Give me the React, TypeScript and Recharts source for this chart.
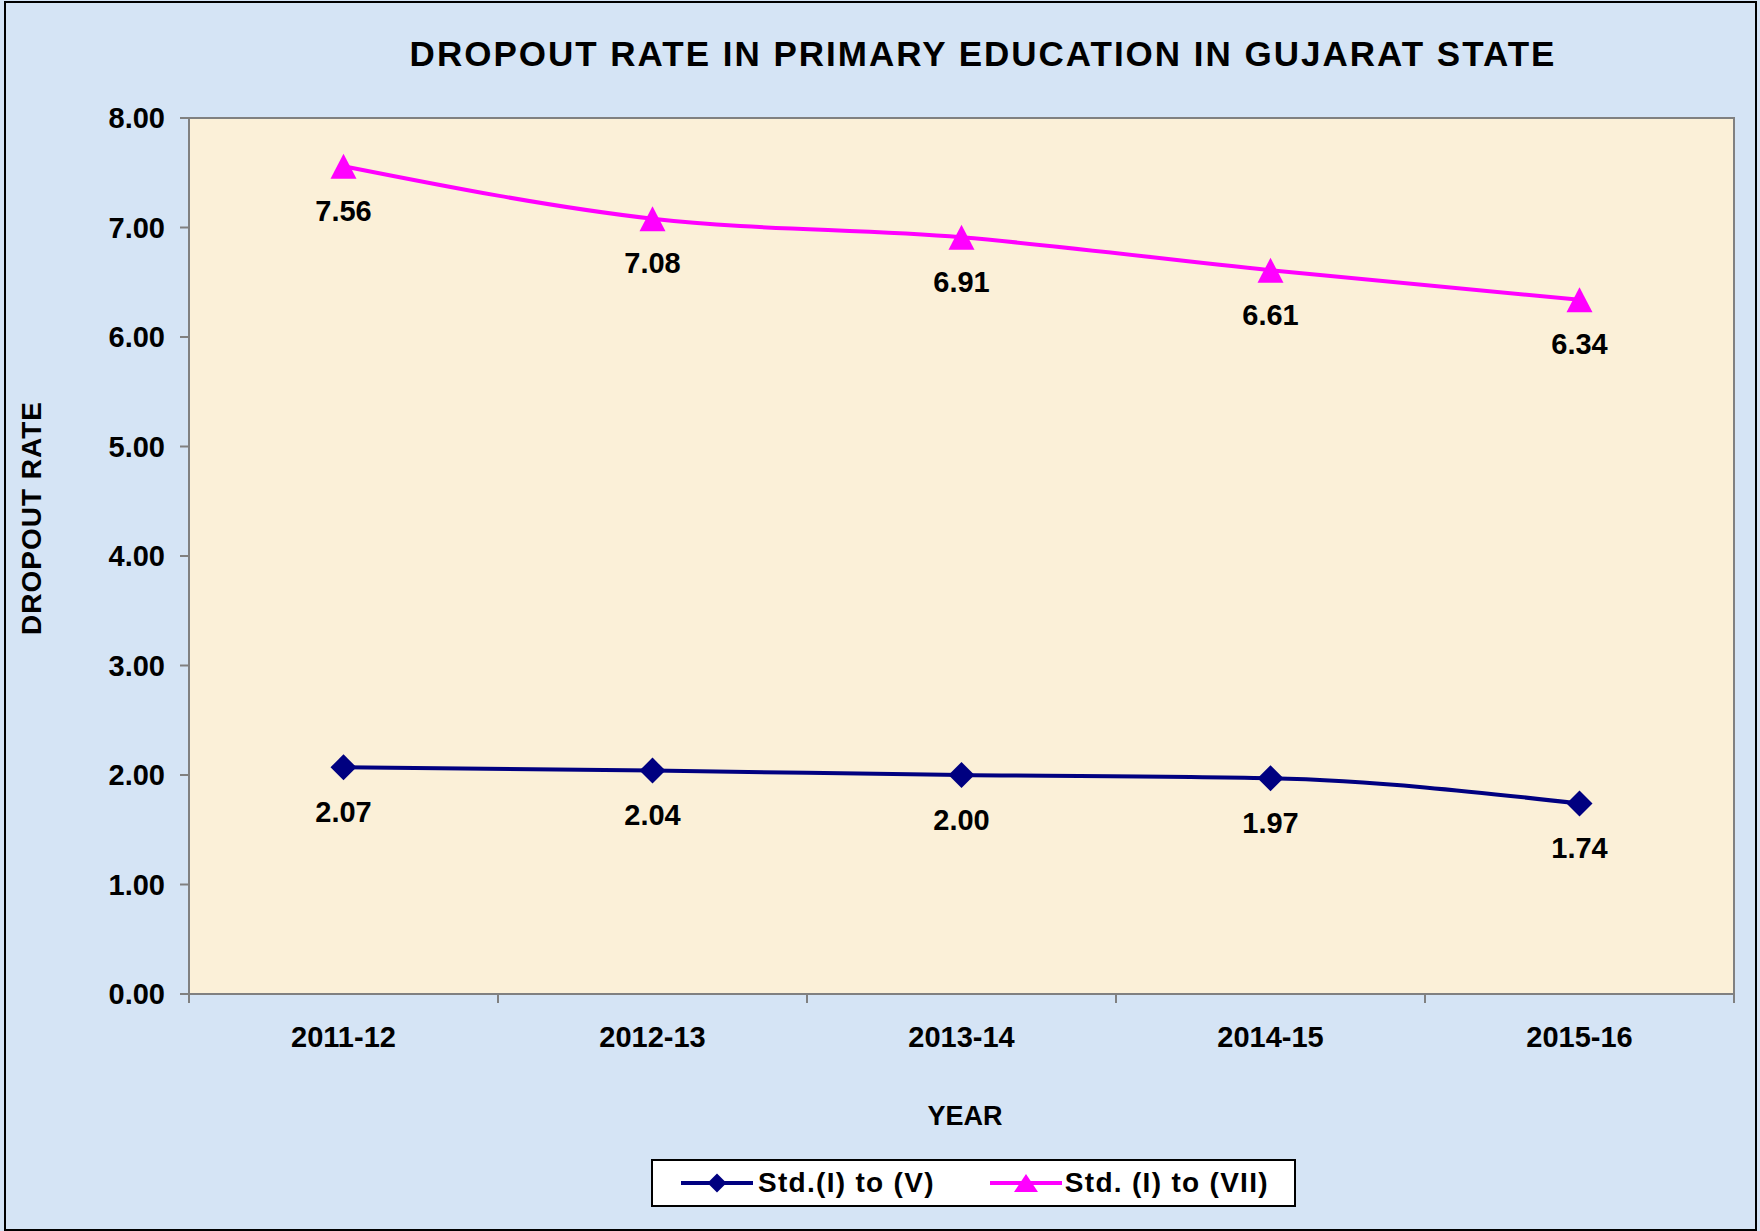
import React from 'react';
import { LineChart, Line, XAxis, YAxis, ReferenceArea, LabelList } from 'recharts';

const years = ['2011-12', '2012-13', '2013-14', '2014-15', '2015-16'];
const stdIToV = [2.07, 2.04, 2.0, 1.97, 1.74];
const stdIToVII = [7.56, 7.08, 6.91, 6.61, 6.34];
const yTicks = [0, 1, 2, 3, 4, 5, 6, 7, 8];

// each year sits in the middle of its own slot; slot edges carry the tick marks
const data = years.map((year, i) => ({ year, pos: i + 0.5, primary: stdIToV[i], upper: stdIToVII[i] }));
const xTicks = years.flatMap((_, i) => [i, i + 0.5]).concat(years.length);

const FONT = 'Arial, "Liberation Sans", sans-serif';
const NAVY = '#000080';
const PINK = '#FF00FF';
const AXIS = '#808080';

const Diamond = ({ cx, cy, r = 13 }: any) => {
  if (cx == null || cy == null) return null;
  return <polygon points={`${cx},${cy - r} ${cx + r},${cy} ${cx},${cy + r} ${cx - r},${cy}`} fill={NAVY} />;
};

const Triangle = ({ cx, cy, w = 26, h = 25 }: any) => {
  if (cx == null || cy == null) return null;
  return <polygon points={`${cx},${cy - h / 2} ${cx + w / 2},${cy + h / 2} ${cx - w / 2},${cy + h / 2}`} fill={PINK} />;
};

const labelStyle = { fontSize: 29, fontWeight: 700, fill: '#000', fontFamily: FONT };
const fmt = (v: any) => Number(v).toFixed(2);

const YearTick = ({ x, y, payload }: any) => {
  const v = payload.value;
  if (Number.isInteger(v)) {
    return <line x1={x} y1={y} x2={x} y2={y + 9} stroke={AXIS} strokeWidth={2} />;
  }
  return (
    <text x={x} y={y + 32} dy="0.71em" textAnchor="middle" {...labelStyle}>
      {years[Math.floor(v)]}
    </text>
  );
};

export default function App() {
  return (
    <div
      style={{
        position: 'absolute',
        left: 0,
        top: 0,
        width: 1760,
        height: 1231,
        background: '#D5E4F5',
        fontFamily: FONT,
        overflow: 'hidden',
      }}
    >
      <div
        style={{
          position: 'absolute',
          left: 4,
          top: 1,
          width: 1753,
          height: 1230,
          border: '2px solid #000',
          boxSizing: 'border-box',
        }}
      />
      <div style={{ position: 'absolute', left: 0, top: 0 }}>
        <LineChart width={1760} height={1231} data={data} margin={{ top: 118, right: 26, bottom: 177, left: 69 }}>
          <ReferenceArea y1={0} y2={8} fill="#FBF0D8" fillOpacity={1} stroke={AXIS} strokeWidth={2} />
          <XAxis
            dataKey="pos"
            type="number"
            domain={[0, years.length]}
            ticks={xTicks}
            interval={0}
            height={60}
            axisLine={{ stroke: AXIS, strokeWidth: 2 }}
            tickLine={false}
            tickSize={0}
            tickMargin={0}
            tick={<YearTick />}
          />
          <YAxis
            domain={[0, 8]}
            ticks={yTicks}
            width={120}
            axisLine={{ stroke: AXIS, strokeWidth: 2 }}
            tickLine={{ stroke: AXIS, strokeWidth: 2 }}
            tickSize={9}
            tickMargin={15}
            tickFormatter={fmt}
            tick={labelStyle}
          />
          <Line
            type="monotone"
            dataKey="primary"
            name="Std.(I) to (V)"
            stroke={NAVY}
            strokeWidth={4}
            dot={(p: any) => <Diamond key={`d${p.index}`} cx={p.cx} cy={p.cy} />}
            activeDot={false}
            isAnimationActive={false}
          >
            <LabelList dataKey="primary" position="bottom" offset={34} formatter={fmt} {...labelStyle} />
          </Line>
          <Line
            type="monotone"
            dataKey="upper"
            name="Std. (I) to (VII)"
            stroke={PINK}
            strokeWidth={4}
            dot={(p: any) => <Triangle key={`t${p.index}`} cx={p.cx} cy={p.cy} />}
            activeDot={false}
            isAnimationActive={false}
          >
            <LabelList dataKey="upper" position="bottom" offset={34} formatter={fmt} {...labelStyle} />
          </Line>
        </LineChart>
      </div>

      <div
        style={{
          position: 'absolute',
          left: 0,
          width: 1966,
          top: 34,
          textAlign: 'center',
          fontSize: 35,
          fontWeight: 700,
          letterSpacing: 2,
          lineHeight: '40px',
          whiteSpace: 'nowrap',
        }}
      >
        DROPOUT RATE IN PRIMARY EDUCATION IN GUJARAT STATE
      </div>

      <div
        style={{
          position: 'absolute',
          left: 32,
          top: 518,
          transform: 'translate(-50%, -50%) rotate(-90deg)',
          fontSize: 28,
          fontWeight: 700,
          letterSpacing: 1,
          whiteSpace: 'nowrap',
          lineHeight: '32px',
        }}
      >
        DROPOUT RATE
      </div>

      <div
        style={{
          position: 'absolute',
          left: 965,
          top: 1116,
          transform: 'translate(-50%, -50%)',
          fontSize: 27,
          fontWeight: 700,
          whiteSpace: 'nowrap',
          lineHeight: '32px',
        }}
      >
        YEAR
      </div>

      <div
        style={{
          position: 'absolute',
          left: 651,
          top: 1159,
          width: 645,
          height: 48,
          background: '#fff',
          border: '2px solid #000',
          boxSizing: 'border-box',
          display: 'flex',
          alignItems: 'center',
          fontSize: 28,
          fontWeight: 700,
          letterSpacing: 1.3,
          whiteSpace: 'nowrap',
        }}
      >
        <svg width={72} height={30} style={{ marginLeft: 28, flex: 'none' }}>
          <line x1={0} y1={15} x2={72} y2={15} stroke={NAVY} strokeWidth={4} />
          <Diamond cx={36} cy={15} r={9.5} />
        </svg>
        <span style={{ marginLeft: 5 }}>Std.(I) to (V)</span>
        <svg width={72} height={30} style={{ marginLeft: 55, flex: 'none' }}>
          <line x1={0} y1={15} x2={72} y2={15} stroke={PINK} strokeWidth={4} />
          <Triangle cx={36} cy={15} w={24} h={18} />
        </svg>
        <span style={{ marginLeft: 3 }}>Std. (I) to (VII)</span>
      </div>
    </div>
  );
}
